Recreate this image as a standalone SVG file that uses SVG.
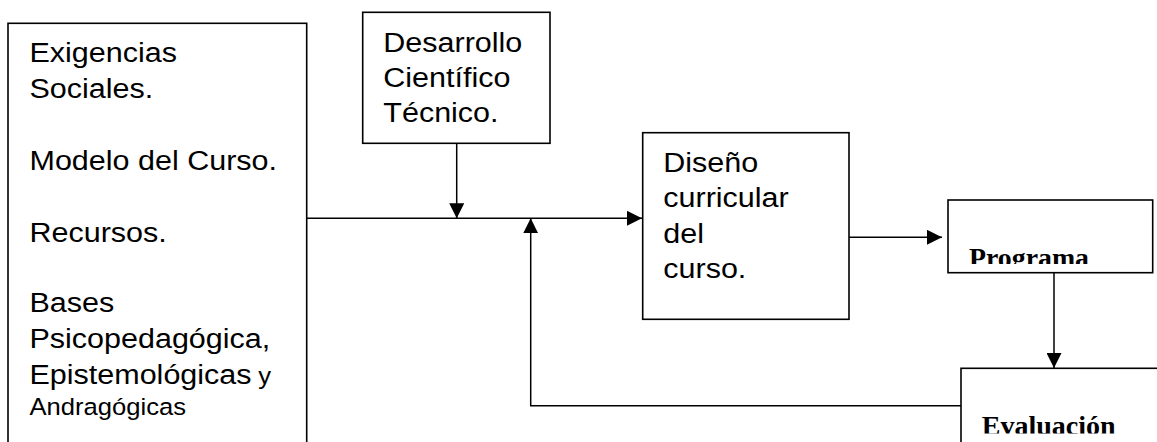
<svg xmlns="http://www.w3.org/2000/svg" width="1157" height="442" viewBox="0 0 1157 442">
<style>
.box{fill:#fff;stroke:#000;stroke-width:1.6}
.t{font-family:"Liberation Sans",Arial,sans-serif;font-size:28px;fill:#000}
.s{font-size:23.5px}
.b{font-family:"Liberation Serif","Times New Roman",serif;font-weight:bold;font-size:28px;fill:#000}
.c{fill:none;stroke:#000;stroke-width:1.5}
</style>
<defs>
<marker id="arr" markerUnits="userSpaceOnUse" markerWidth="15" markerHeight="15" viewBox="0 0 15 15" refX="15" refY="7.5" orient="auto">
<path d="M0,0 L15,7.5 L0,15 Z" fill="#000"/>
</marker>
<clipPath id="clipP"><rect x="948" y="200" width="205" height="64"/></clipPath>
<clipPath id="clipE"><rect x="961" y="368" width="196" height="65.5"/></clipPath>
</defs>
<rect width="1157" height="442" fill="#fff"/>
<g id="connectors">
<line class="c" x1="307" y1="218.3" x2="642" y2="218.3" marker-end="url(#arr)"/>
<line class="c" x1="456.7" y1="143.3" x2="456.7" y2="218.3" marker-end="url(#arr)"/>
<polyline class="c" points="961,405.7 530.7,405.7 530.7,218.3" marker-end="url(#arr)"/>
<line class="c" x1="849" y1="237.3" x2="942" y2="237.3" marker-end="url(#arr)"/>
<line class="c" x1="1054" y1="272.7" x2="1054" y2="368" marker-end="url(#arr)"/>
</g>
<g id="inputs">
<rect class="box" x="8" y="23.3" width="298.7" height="430"/>
<g transform="scale(1.09,1)">
<text class="t" x="27.06" y="62.3">Exigencias</text>
<text class="t" x="27.06" y="98.3">Sociales.</text>
<text class="t" x="27.06" y="170">Modelo del Curso.</text>
<text class="t" x="27.06" y="241.7">Recursos.</text>
<text class="t" x="27.06" y="311.7">Bases</text>
<text class="t" x="27.06" y="348.3">Psicopedagógica,</text>
<text class="t" x="27.06" y="384.3">Epistemológicas</text>
<text class="t s" x="236.97" y="384.3">y</text>
<text class="t s" x="27.06" y="415">Andragógicas</text>
</g>
</g>
<g id="desarrollo">
<rect class="box" x="362.7" y="12.3" width="187.3" height="131"/>
<g transform="scale(1.09,1)">
<text class="t" x="351.65" y="51.7">Desarrollo</text>
<text class="t" x="351.65" y="86.7">Científico</text>
<text class="t" x="351.65" y="121.7">Técnico.</text>
</g>
</g>
<g id="diseno">
<rect class="box" x="642.7" y="132.7" width="206.3" height="186.6"/>
<g transform="scale(1.09,1)">
<text class="t" x="608.53" y="171.7">Diseño</text>
<text class="t" x="608.53" y="207.3">curricular</text>
<text class="t" x="608.53" y="242.7">del</text>
<text class="t" x="608.53" y="278.3">curso.</text>
</g>
</g>
<g id="programa">
<rect class="box" x="948" y="200" width="204.7" height="72.7"/>
<text class="b" x="969" y="266.8" clip-path="url(#clipP)" textLength="120" lengthAdjust="spacingAndGlyphs">Programa</text>
</g>
<g id="evaluacion">
<rect class="box" x="961" y="368.3" width="210" height="90"/>
<text class="b" x="981.7" y="435.2" clip-path="url(#clipE)" textLength="134" lengthAdjust="spacingAndGlyphs">Evaluación</text>
</g>
</svg>
